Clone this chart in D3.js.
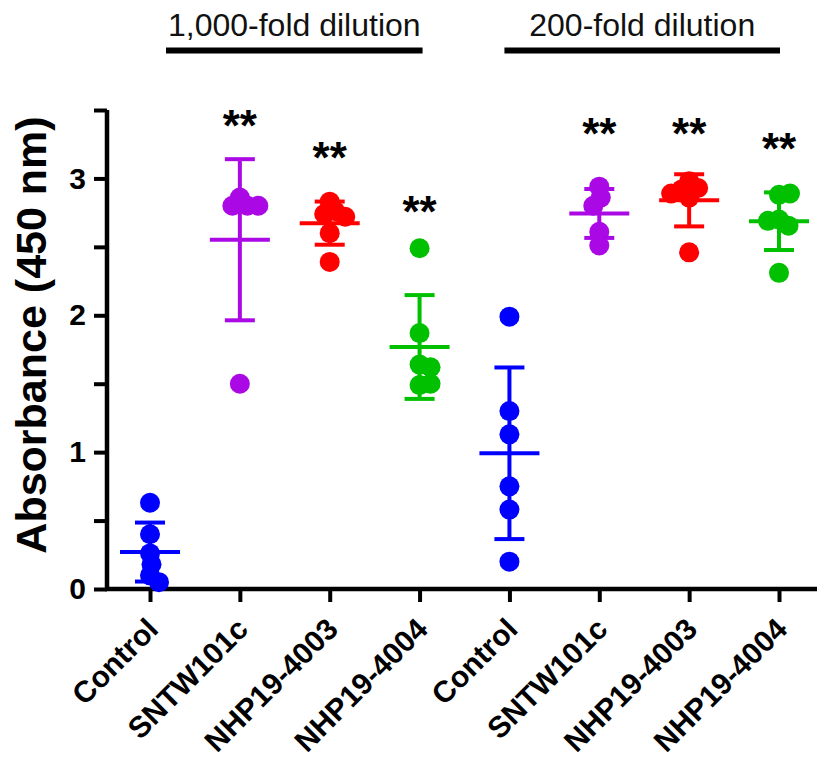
<!DOCTYPE html>
<html>
<head>
<meta charset="utf-8">
<script src="https://cdn.jsdelivr.net/npm/d3@7"></script>
<style>
  body { margin: 0; background: #fff; }
  svg { display: block; font-family: 'Liberation Sans', Arial, sans-serif; }
</style>
</head>
<body>
<div id="chart"></div>
<script>
// categories along the x axis (two dilution blocks of four)
const categories = ['Control', 'SNTW101c', 'NHP19-4003', 'NHP19-4004',
  'Control', 'SNTW101c', 'NHP19-4003', 'NHP19-4004']
const dilutionLabels = ['1,000-fold dilution', '200-fold dilution']
const dilutionBlocks = [[0, 3], [4, 7]]

// absorbance values, one array per column
const control1000 = [0.63, 0.40, 0.26, 0.18, 0.10, 0.05]
const sntw1000 = [2.86, 2.80, 2.80, 2.80, 1.50]
const nhp4003_1000 = [2.83, 2.76, 2.74, 2.72, 2.60, 2.39]
const nhp4004_1000 = [2.49, 1.87, 1.64, 1.62, 1.49, 1.50]
const control200 = [1.99, 1.30, 1.13, 0.75, 0.58, 0.20]
const sntw200 = [2.94, 2.86, 2.80, 2.61, 2.51]
const nhp4003_200 = [2.98, 2.93, 2.92, 2.89, 2.86, 2.46]
const nhp4004_200 = [2.88, 2.89, 2.70, 2.655, 2.69, 2.31]
const columns = [control1000, sntw1000, nhp4003_1000, nhp4004_1000,
  control200, sntw200, nhp4003_200, nhp4004_200]

// significance marks and the level (absorbance units) they sit at
const stars = ['', '**', '**', '**', '', '**', '**', '**']
const starLevels = [null, 3.44, 3.21, 2.81, null, 3.38, 3.38, 3.27]

const yTicks = [0, 0.5, 1, 1.5, 2, 2.5, 3, 3.5]
const yLabel = 'Absorbance (450 nm)'

const colors = ['#0000ff', '#aa08e4', '#ff0000', '#00c000',
  '#0000ff', '#aa08e4', '#ff0000', '#00c000']

drawChart()

function drawChart () {
  const width = 817
  const height = 757
  const axisX = 107
  const axisY = 589
  const dotR = 10

  const svg = d3.select('#chart')
    .append('svg')
    .attr('width', width)
    .attr('height', height)

  const x = d3.scalePoint()
    .domain(d3.range(categories.length))
    .range([150, 779])

  const y = d3.scaleLinear()
    .domain([0, 3.5])
    .range([axisY, 110])

  // y axis: ticks every 0.5, labels on whole numbers only
  const yAxis = d3.axisLeft(y)
    .tickValues(yTicks)
    .tickSize(13)
    .tickSizeOuter(0)
    .tickPadding(8)
    .tickFormat(d => Number.isInteger(d) && d < 3.5 ? d : '')

  const gy = svg.append('g')
    .attr('transform', `translate(${axisX},0)`)
    .call(yAxis)
  gy.select('.domain').remove()
  gy.selectAll('line').attr('stroke', '#000').attr('stroke-width', 4)
  gy.selectAll('text')
    .attr('font-size', 30)
    .attr('font-weight', 'bold')
    .attr('fill', '#000')
  gy.append('line')
    .attr('y1', y(3.5))
    .attr('y2', axisY + 2)
    .attr('stroke', '#000')
    .attr('stroke-width', 4.5)

  // x axis
  const xAxis = d3.axisBottom(x)
    .tickSize(13)
    .tickSizeOuter(0)
    .tickFormat('')

  const gx = svg.append('g')
    .attr('transform', `translate(0,${axisY})`)
    .call(xAxis)
  gx.select('.domain').remove()
  gx.selectAll('line').attr('stroke', '#000').attr('stroke-width', 4)
  gx.append('line')
    .attr('x1', axisX - 2)
    .attr('x2', width)
    .attr('stroke', '#000')
    .attr('stroke-width', 4.5)

  svg.append('g')
    .selectAll('text')
    .data(categories)
    .join('text')
    .attr('transform', (d, i) => `translate(${x(i) + 10},${axisY + 42}) rotate(-45)`)
    .attr('text-anchor', 'end')
    .attr('font-size', 30)
    .attr('font-weight', 'bold')
    .text(d => d)

  // y axis title
  svg.append('text')
    .attr('transform', `translate(46,335) rotate(-90)`)
    .attr('text-anchor', 'middle')
    .attr('font-size', 43)
    .attr('font-weight', 'bold')
    .text(yLabel)

  // dilution headers with their underline bars
  const barPad = [[16, 3], [-5, 1]]
  dilutionBlocks.forEach(([a, b], k) => {
    const x1 = x(a) + barPad[k][0]
    const x2 = x(b) + barPad[k][1]
    svg.append('text')
      .attr('x', (x1 + x2) / 2)
      .attr('y', 36)
      .attr('text-anchor', 'middle')
      .attr('font-size', 32)
      .attr('fill', '#111')
      .text(dilutionLabels[k])
    svg.append('line')
      .attr('x1', x1)
      .attr('x2', x2)
      .attr('y1', 50.5)
      .attr('y2', 50.5)
      .attr('stroke', '#000')
      .attr('stroke-width', 6)
  })

  // one group per column: mean +/- SD, then the dots
  const cols = svg.append('g')
    .selectAll('g')
    .data(columns)
    .join('g')
    .attr('transform', (d, i) => `translate(${x(i)},0)`)
    .attr('fill', (d, i) => colors[i])
    .attr('stroke', (d, i) => colors[i])

  cols.each(function (vals, i) {
    const g = d3.select(this)
    const mean = d3.mean(vals)
    const sd = d3.deviation(vals)

    g.append('line')
      .attr('x1', 0).attr('x2', 0)
      .attr('y1', y(mean + sd)).attr('y2', y(mean - sd))
      .attr('stroke-width', 4)
    g.selectAll('.cap')
      .data([mean + sd, mean - sd])
      .join('line')
      .attr('class', 'cap')
      .attr('x1', -15).attr('x2', 15)
      .attr('y1', d => y(d)).attr('y2', d => y(d))
      .attr('stroke-width', 4)
    g.append('line')
      .attr('x1', -30).attr('x2', 30)
      .attr('y1', y(mean)).attr('y2', y(mean))
      .attr('stroke-width', 4)

    const offsets = swarm(vals.map(v => y(v)), 11)
    g.selectAll('circle')
      .data(vals)
      .join('circle')
      .attr('cx', (d, j) => offsets[j])
      .attr('cy', d => y(d))
      .attr('r', dotR)
      .attr('stroke', 'none')
  })

  // significance asterisks
  svg.append('g')
    .selectAll('text')
    .data(d3.range(stars.length).filter(i => stars[i] !== ''))
    .join('text')
    .attr('x', i => x(i))
    .attr('y', i => y(starLevels[i]) + 23)
    .attr('text-anchor', 'middle')
    .attr('font-size', 44)
    .attr('font-weight', 'bold')
    .text(i => stars[i])
}

// greedy beeswarm: shift each dot sideways until it clears the ones placed before it
function swarm (ys, minDist) {
  const placed = []
  return ys.map(py => {
    let best = 0
    for (let step = 0; step < 200; step++) {
      const cands = step === 0 ? [0] : [step * 0.5, -step * 0.5]
      const ok = cands.find(dx => placed.every(p => Math.hypot(p[0] - dx, p[1] - py) >= minDist))
      if (ok !== undefined) { best = ok; break }
    }
    placed.push([best, py])
    return best
  })
}
</script>
</body>
</html>
